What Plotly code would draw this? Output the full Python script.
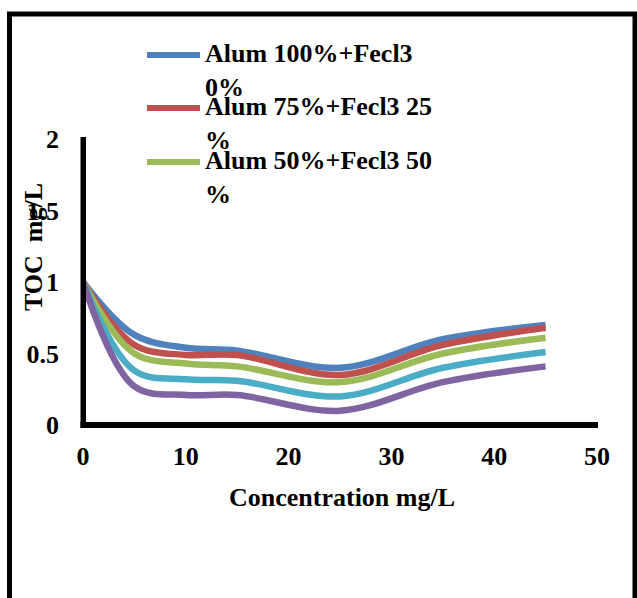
import plotly.graph_objects as go

# ---- data ----
concentration = [0, 5, 10, 15, 25, 35, 45]
alum100 = [1.0, 0.63, 0.54, 0.52, 0.40, 0.60, 0.70]
alum75 = [1.0, 0.56, 0.49, 0.49, 0.35, 0.56, 0.68]
alum50 = [1.0, 0.50, 0.43, 0.41, 0.30, 0.50, 0.61]
alum25 = [1.0, 0.38, 0.32, 0.31, 0.20, 0.40, 0.51]
alum0 = [1.0, 0.27, 0.21, 0.21, 0.10, 0.30, 0.41]

series_names = ["Alum 100%+Fecl3<br>0%", "Alum 75%+Fecl3 25<br>%", "Alum 50%+Fecl3 50<br>%",
                "Alum 25%+Fecl3 75%", "Alum 0%+Fecl3 100%"]
series_values = [alum100, alum75, alum50, alum25, alum0]
colors = ["#4F81BD", "#C0504D", "#9BBB59", "#4BACC6", "#8064A2"]
x_ticks = [0, 10, 20, 30, 40, 50]
y_ticks = [0, 0.5, 1, 1.5, 2]

FONT = dict(family="Liberation Serif, Times New Roman, serif", size=26, color="black", weight="bold")

W, H = 637, 598
L, R, T, B = 83, 40, 139, 173
PW, PH = W - L - R, H - T - B


def px_to_paper_x(px):
    return (px - L) / PW


def px_to_paper_y(py):
    return (H - B - py) / PH


fig = go.Figure()
for name, vals, col in zip(series_names, series_values, colors):
    fig.add_trace(go.Scatter(
        x=concentration, y=vals, mode="lines", name=name,
        line=dict(color=col, width=6.5, shape="spline", smoothing=1.0),
        showlegend=False, hoverinfo="x+y",
    ))

shapes = []
annotations = []
# axis lines (thick, as in the reference) drawn as filled rectangles in paper coords
shapes.append(dict(type="rect", xref="paper", yref="paper",
                   x0=px_to_paper_x(80.5), x1=px_to_paper_x(86),
                   y0=px_to_paper_y(428), y1=px_to_paper_y(137),
                   line=dict(width=0), fillcolor="black", layer="above"))
shapes.append(dict(type="rect", xref="paper", yref="paper",
                   x0=px_to_paper_x(80.5), x1=px_to_paper_x(598),
                   y0=px_to_paper_y(428), y1=px_to_paper_y(422),
                   line=dict(width=0), fillcolor="black", layer="above"))

# manual legend (first three entries visible as in the reference)
legend_y = [55, 108, 162]
for i in range(3):
    y = legend_y[i]
    shapes.append(dict(type="line", xref="paper", yref="paper",
                       x0=px_to_paper_x(147), x1=px_to_paper_x(200),
                       y0=px_to_paper_y(y), y1=px_to_paper_y(y),
                       line=dict(color=colors[i], width=6)))
    annotations.append(dict(text=series_names[i], xref="paper", yref="paper",
                            x=px_to_paper_x(203), y=px_to_paper_y(y + 15.5),
                            xanchor="left", yanchor="middle", align="left",
                            showarrow=False, font=FONT))

# outer border
shapes.append(dict(type="rect", xref="paper", yref="paper",
                   x0=px_to_paper_x(9.5), x1=px_to_paper_x(635),
                   y0=px_to_paper_y(620), y1=px_to_paper_y(14),
                   line=dict(color="black", width=5), fillcolor="rgba(0,0,0,0)"))

annotations.append(dict(text="TOC  mg/L", xref="paper", yref="paper",
                        x=px_to_paper_x(33), y=px_to_paper_y(247),
                        xanchor="center", yanchor="middle", textangle=-90,
                        showarrow=False, font=FONT))
annotations.append(dict(text="Concentration mg/L", xref="paper", yref="paper",
                        x=px_to_paper_x(342), y=px_to_paper_y(497),
                        xanchor="center", yanchor="middle",
                        showarrow=False, font=FONT))

fig.update_layout(
    width=W, height=H,
    margin=dict(l=L, r=R, t=T, b=B, pad=0),
    paper_bgcolor="white", plot_bgcolor="white",
    font=FONT,
    shapes=shapes, annotations=annotations,
    showlegend=False,
)
fig.update_xaxes(range=[0, 50], tickvals=x_ticks, showgrid=False, zeroline=False,
                 showline=False, ticks="outside", ticklen=8, tickcolor="rgba(0,0,0,0)",
                 tickfont=FONT)
fig.update_yaxes(range=[0, 2], tickvals=y_ticks, showgrid=False, zeroline=False,
                 showline=False, ticks="", ticklabelstandoff=23, tickfont=FONT)

fig.write_html("out.html")
